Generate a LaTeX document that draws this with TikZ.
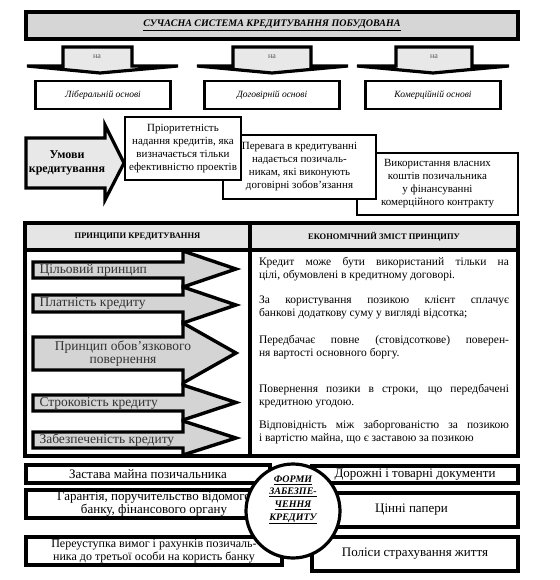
\documentclass[tikz,border=0pt]{standalone}
\usepackage{fontspec}
\setmainfont{Liberation Serif}
\definecolor{titlegray}{gray}{0.84}
\definecolor{arrowgray}{gray}{0.91}
\definecolor{headgray}{gray}{0.90}
\definecolor{pringray}{gray}{0.83}
\begin{document}
\begin{tikzpicture}[x = 1pt, y = -1pt,
  frame/.style = {draw, line width = 3.2pt, fill = white, inner sep = 0pt, align = center},
  thin frame/.style = {draw, line width = 2pt, fill = white, inner sep = 0pt, align = center},
  shape line/.style = {draw, line width = 3.2pt, line join = miter},
  na label/.style = {black!65, font = \fontsize{8}{9}\selectfont},
  base label/.style = {font = \fontsize{9.5}{11}\itshape},
  cond text/.style = {font = \fontsize{11}{13}\selectfont},
  prin text/.style = {black!80, anchor = west, font = \fontsize{13.5}{13}\selectfont},
  econ text/.style = {text width = 250pt, align = justify, inner sep = 0pt, font = \fontsize{11.5}{13}\selectfont},
  form text/.style = {font = \fontsize{13}{13}\selectfont}]
\useasboundingbox (0, 0) rectangle (559, 580);

\node[frame, fill = titlegray, minimum width = 492pt, minimum height = 27pt, font = \fontsize{10}{11}\selectfont] (title) at (272, 25.5){\textbf{\textit{\underline{СУЧАСНА СИСТЕМА КРЕДИТУВАННЯ ПОБУДОВАНА}}}};

\draw[shape line, fill = arrowgray] (63, 47) -- (132, 47) -- (132, 66) -- (178, 66) -- (100, 73) -- (27, 66) -- (63, 66) -- cycle;
\draw[shape line, fill = arrowgray] (233, 47) -- (311, 47) -- (311, 66) -- (348, 66) -- (272, 73) -- (197, 66) -- (233, 66) -- cycle;
\draw[shape line, fill = arrowgray] (396, 47) -- (472, 47) -- (472, 66) -- (509, 66) -- (433, 73) -- (357, 66) -- (396, 66) -- cycle;
\node[na label] (na1) at (97, 57){на};
\node[na label] (na2) at (272, 57){на};
\node[na label] (na3) at (434, 57){на};

\node[frame, line width = 2.8pt, minimum width = 135pt, minimum height = 28pt, base label] (liberal) at (103, 95){Ліберальній основі};
\node[frame, line width = 2.8pt, minimum width = 135pt, minimum height = 28pt, base label] (dogovir) at (272, 95){Договірній основі};
\node[frame, line width = 2.8pt, minimum width = 135pt, minimum height = 28pt, base label] (komerc) at (433, 95){Комерційній основі};

\draw[shape line, fill = arrowgray] (26, 138) -- (105, 138) -- (105, 125) -- (124, 163) -- (105, 200) -- (105, 188) -- (26, 188) -- cycle;
\node[align = center, font = \fontsize{12}{13.5}\selectfont\bfseries] (umovy) at (67, 163){Умови\\кредитування};

\node[thin frame, minimum width = 161pt, minimum height = 62pt, cond text] (cond3) at (437.5, 184){Використання власних\\коштів позичальника\\у фінансуванні\\комерційного контракту};
\node[thin frame, minimum width = 153pt, minimum height = 64pt, cond text] (cond2) at (299.5, 167){Перевага в кредитуванні\\надається позичаль-\\никам, які виконують\\договірні зобов’язання};
\node[thin frame, minimum width = 116pt, minimum height = 63pt, cond text] (cond1) at (183, 148.5){Пріоритетність\\надання кредитів, яка\\визначається тільки\\ефективністю проектів};

\draw[line width = 3.2pt] (25, 223) rectangle (518, 456);
\draw[line width = 3.2pt, fill = headgray] (25, 223) rectangle (518, 250);
\draw[line width = 3.2pt] (250, 223) -- (250, 456);
\node[font = \fontsize{8.5}{10}\selectfont\bfseries] (prinhead) at (137.5, 236.5){ПРИНЦИПИ КРЕДИТУВАННЯ};
\node[font = \fontsize{8.5}{10}\selectfont\bfseries] (econhead) at (384, 236.5){ЕКОНОМІЧНИЙ ЗМІСТ ПРИНЦИПУ};

\draw[shape line, line width = 3.4pt, fill = pringray] (33, 262) -- (183, 262) -- (183, 251) -- (236, 269) -- (183, 287) -- (183, 278) -- (33, 278) -- cycle;
\draw[shape line, line width = 3.4pt, fill = pringray] (33, 295) -- (183, 295) -- (183, 287) -- (236, 305) -- (183, 323) -- (183, 312) -- (33, 312) -- cycle;
\draw[shape line, line width = 3.4pt, fill = pringray] (33, 337) -- (183, 337) -- (183, 323) -- (236, 353) -- (183, 383) -- (183, 370) -- (33, 370) -- cycle;
\draw[shape line, line width = 3.4pt, fill = pringray] (33, 395) -- (183, 395) -- (183, 385) -- (236, 402.5) -- (183, 420) -- (183, 411) -- (33, 411) -- cycle;
\draw[shape line, line width = 3.4pt, fill = pringray] (33, 432) -- (183, 432) -- (183, 421) -- (236, 438) -- (183, 455) -- (183, 448) -- (33, 448) -- cycle;
\node[prin text] (ciloviy) at (36, 270){Цільовий принцип};
\node[prin text] (platnist) at (36, 303.5){Платність кредиту};
\node[prin text, anchor = center, align = center] (povernen) at (123, 353.5){Принцип обов’язкового\\повернення};
\node[prin text] (strokov) at (36, 403){Строковість кредиту};
\node[prin text] (zabezp) at (36, 440){Забезпеченість кредиту};

\node[econ text] (econ1) at (384, 269){Кредит може бути використаний тільки на\linebreak цілі, обумовлені в кредитному договорі.};
\node[econ text] (econ2) at (384, 307){За користування позикою клієнт сплачує\linebreak банкові додаткову суму у вигляді відсотка;};
\node[econ text] (econ3) at (384, 347.5){Передбачає повне (стовідсоткове) поверен-\linebreak ня вартості основного боргу.};
\node[econ text] (econ4) at (384, 396){Повернення позики в строки, що передбачені\linebreak кредитною угодою.};
\node[econ text] (econ5) at (384, 432.5){Відповідність між заборгованістю за позикою\linebreak і вартістю майна, що є заставою за позикою};

\node[frame, minimum width = 244pt, minimum height = 18pt, form text] (zastava) at (148, 474){Застава майна позичальника};
\node[frame, minimum width = 256pt, minimum height = 28pt, form text] (garant) at (154, 504){Гарантія, поручительство відомого\\банку, фінансового органу};
\node[frame, minimum width = 256pt, minimum height = 28pt, font = \fontsize{12}{13}\selectfont] (pereust) at (154, 551){Переуступка вимог і рахунків позичаль-\\ника до третьої особи на користь банку};
\node[frame, minimum width = 206pt, minimum height = 17pt, form text] (dorozh) at (415, 474.5){Дорожні і товарні документи};
\node[frame, minimum width = 213pt, minimum height = 34pt, form text] (cinni) at (411.5, 510){Цінні папери};
\node[frame, minimum width = 206pt, minimum height = 34pt, form text] (polisy) at (415, 554){Поліси страхування життя};
\node[draw, circle, line width = 3.2pt, fill = white, minimum size = 94pt] (formy) at (293, 511){};
\node[align = center, font = \fontsize{10}{12.5}\selectfont\bfseries\itshape] (formytext) at (293, 500){\underline{ФОРМИ}\\\underline{ЗАБЕЗПЕ-}\\\underline{ЧЕННЯ}\\\underline{КРЕДИТУ}};
\end{tikzpicture}
\end{document}
